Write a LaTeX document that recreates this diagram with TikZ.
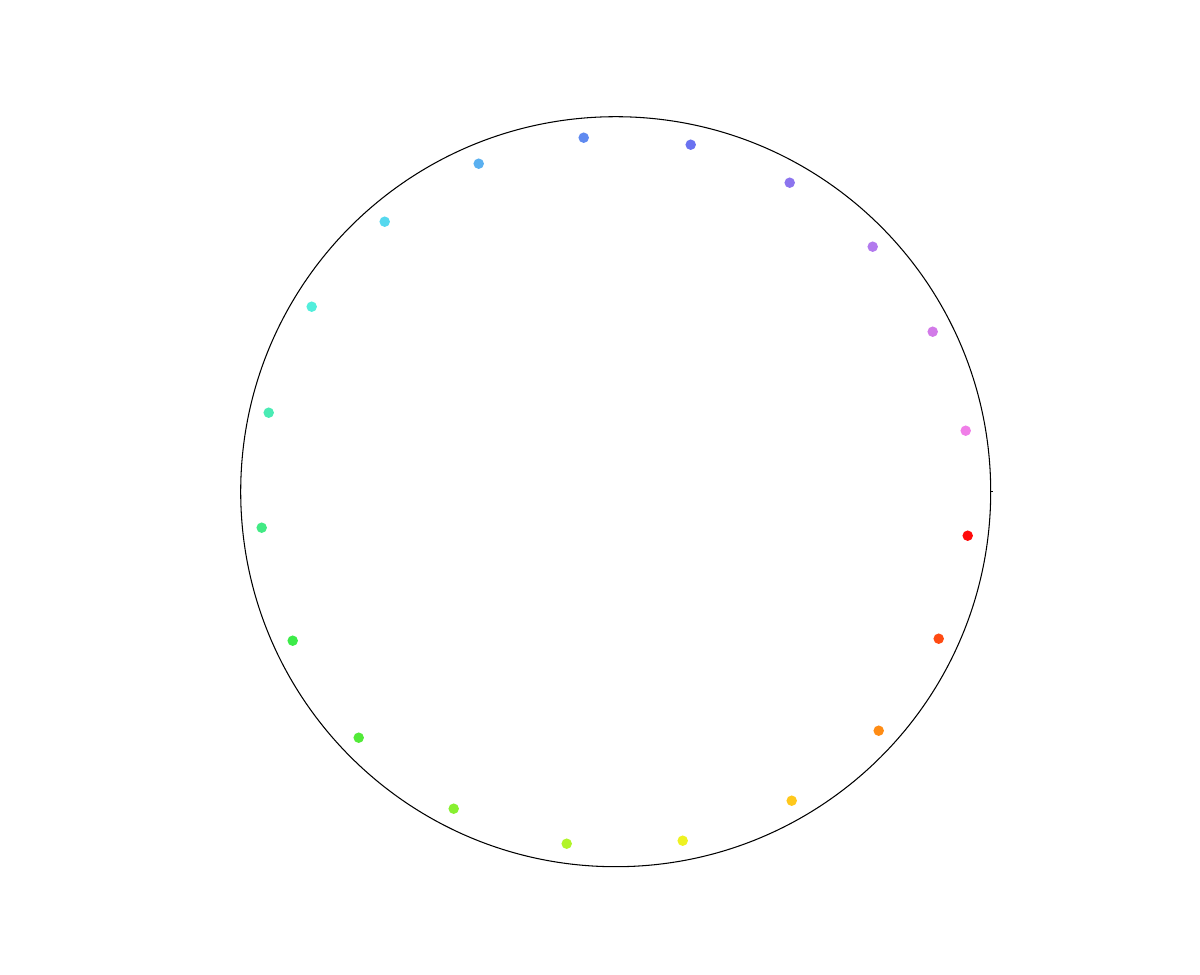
\documentclass[tikz,border=0pt]{standalone}
\begin{document}
\begin{tikzpicture}[x=0.02cm,y=-0.02cm,
  dot/.style={circle,inner sep=0pt,minimum size=10.5*0.02cm,draw=none},
  ring/.style={draw=black,line width=0.6pt}]
\useasboundingbox (0,0) rectangle (1200,974);
\definecolor{c1}{HTML}{FF0A0A}
\definecolor{c2}{HTML}{FF4A12}
\definecolor{c3}{HTML}{FF8C14}
\definecolor{c4}{HTML}{FFC81C}
\definecolor{c5}{HTML}{EEF222}
\definecolor{c6}{HTML}{B2F42A}
\definecolor{c7}{HTML}{88F030}
\definecolor{c8}{HTML}{52EA38}
\definecolor{c9}{HTML}{3CEB48}
\definecolor{c10}{HTML}{42EA84}
\definecolor{c11}{HTML}{4AEBB4}
\definecolor{c12}{HTML}{52EEDC}
\definecolor{c13}{HTML}{56D8EE}
\definecolor{c14}{HTML}{5AB0F0}
\definecolor{c15}{HTML}{5F8AF0}
\definecolor{c16}{HTML}{6A72F0}
\definecolor{c17}{HTML}{8C74EE}
\definecolor{c18}{HTML}{B27AEE}
\definecolor{c19}{HTML}{D27AE8}
\definecolor{c20}{HTML}{F07EE8}
\begin{scope}[shift={(0.7,0.7)}]
\coordinate (ctr) at (615,491);
\draw[ring] (ctr) circle (375);
\coordinate (t0) at (990,491);
\coordinate (t1) at (992,491);
\draw[ring] (t0) -- (t1);
\node[dot,fill=c1] (d1) at (967,535) {};
\node[dot,fill=c2] (d2) at (938,638) {};
\node[dot,fill=c3] (d3) at (878,730) {};
\node[dot,fill=c4] (d4) at (791,800) {};
\node[dot,fill=c5] (d5) at (682,840) {};
\node[dot,fill=c6] (d6) at (566,843) {};
\node[dot,fill=c7] (d7) at (453,808) {};
\node[dot,fill=c8] (d8) at (358,737) {};
\node[dot,fill=c9] (d9) at (292,640) {};
\node[dot,fill=c10] (d10) at (261,527) {};
\node[dot,fill=c11] (d11) at (268,412) {};
\node[dot,fill=c12] (d12) at (311,306) {};
\node[dot,fill=c13] (d13) at (384,221) {};
\node[dot,fill=c14] (d14) at (478,163) {};
\node[dot,fill=c15] (d15) at (583,137) {};
\node[dot,fill=c16] (d16) at (690,144) {};
\node[dot,fill=c17] (d17) at (789,182) {};
\node[dot,fill=c18] (d18) at (872,246) {};
\node[dot,fill=c19] (d19) at (932,331) {};
\node[dot,fill=c20] (d20) at (965,430) {};
\end{scope}
\end{tikzpicture}
\end{document}
